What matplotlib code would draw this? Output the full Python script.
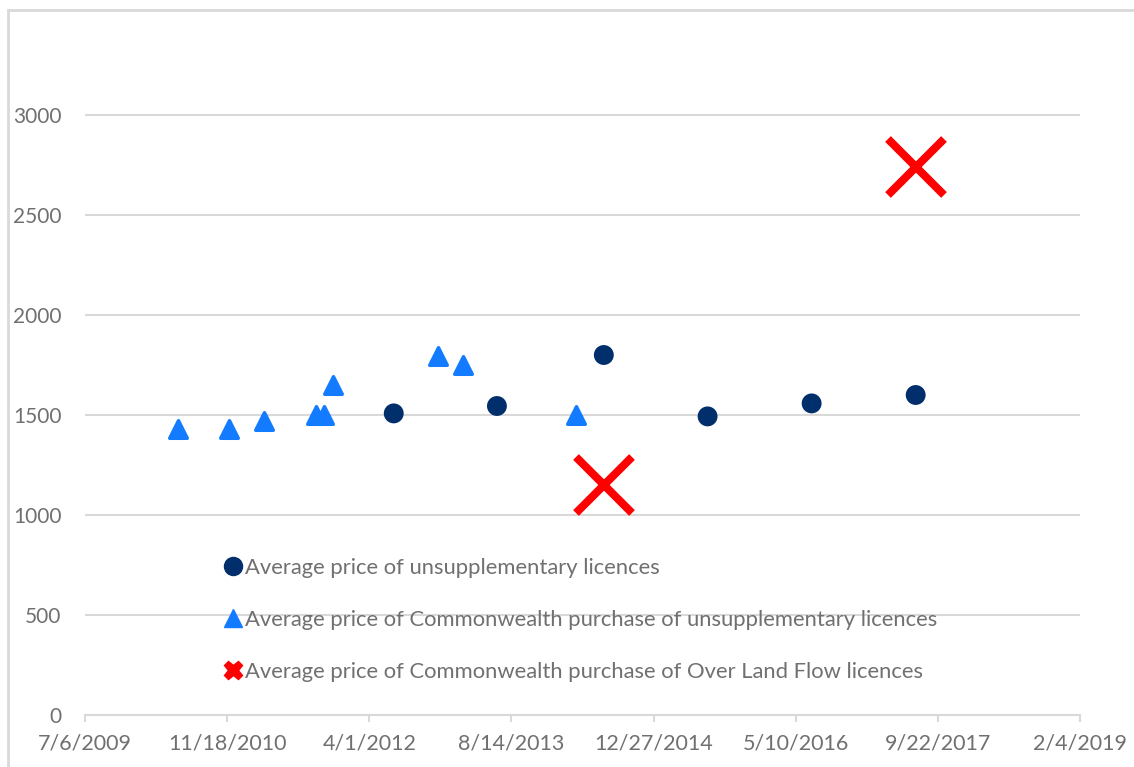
import datetime as dt
import matplotlib
matplotlib.use("Agg")
import matplotlib.pyplot as plt
import matplotlib.dates as mdates
from matplotlib.lines import Line2D
from matplotlib.patches import Rectangle

plt.rcParams['font.family'] = ['Lato', 'DejaVu Sans']

# data
unsup_dates = ['2012-06-26', '2013-06-24', '2014-07-05', '2015-07-05', '2016-07-05', '2017-07-06']
unsup_price = [1508, 1545, 1800, 1493, 1558, 1600]

cw_dates = ['2010-05-28', '2010-11-25', '2011-03-27', '2011-09-25', '2011-10-24',
            '2011-11-26', '2012-11-27', '2013-02-24', '2014-03-29']
cw_price = [1430, 1430, 1470, 1500, 1500, 1650, 1795, 1750, 1500]

olf_dates = ['2014-07-05', '2017-07-06']
olf_price = [1150, 2740]

labels = ['Average price of unsupplementary licences',
          'Average price of Commonwealth purchase of unsupplementary licences',
          'Average price of Commonwealth purchase of Over Land Flow licences']

start = dt.date(2009, 7, 6)
tick_dates = [start + dt.timedelta(days=500 * i) for i in range(8)]
y_ticks = [0, 500, 1000, 1500, 2000, 2500, 3000]

navy = '#002f6c'
blue = '#137bff'
red = '#ff0000'
grey_txt = '#707070'
grey_line = '#d9d9d9'

def to_dates(lst):
    return [dt.datetime.strptime(s, '%Y-%m-%d') for s in lst]

W, H = 1134, 767
fig = plt.figure(figsize=(W / 100, H / 100), dpi=100)
ax = fig.add_axes([85 / W, (H - 715) / H, (1080 - 85) / W, (715 - 15) / H])

# chart area border (only left and top visible)
fig.patches.append(Rectangle((8 / W, -0.1), 1.2, (H - 10) / H + 0.1, transform=fig.transFigure,
                             fill=False, edgecolor=grey_line, linewidth=2))

ax.scatter(to_dates(cw_dates), cw_price, marker='^', s=160, color=blue,
           edgecolors=blue, linewidths=2.5, zorder=3)
ax.scatter(to_dates(unsup_dates), unsup_price, marker='o', s=205, color=navy,
           edgecolors='none', zorder=3)
ax.plot(to_dates(olf_dates), olf_price, linestyle='none', marker='x', markersize=41,
        markeredgewidth=5.8, color=red, zorder=3)

ax.set_xlim(mdates.date2num(tick_dates[0]), mdates.date2num(tick_dates[-1]))
ax.set_xticks([mdates.date2num(d) for d in tick_dates])
ax.set_xticklabels([f'{d.month}/{d.day}/{d.year}' for d in tick_dates])
ax.set_ylim(0, 3500)
ax.set_yticks(y_ticks)
ax.set_yticklabels([str(v) for v in y_ticks])

for s in ['top', 'right', 'left']:
    ax.spines[s].set_visible(False)
ax.spines['bottom'].set_color(grey_line)
ax.spines['bottom'].set_linewidth(1.5)
ax.grid(axis='y', color=grey_line, linewidth=1.5)
ax.set_axisbelow(True)
ax.tick_params(axis='y', length=0, pad=17, labelsize=15, labelcolor=grey_txt)
ax.tick_params(axis='x', length=5, width=1.5, color=grey_line, pad=8,
               labelsize=15.5, labelcolor=grey_txt)

handles = [
    Line2D([], [], linestyle='none', marker='o', markersize=13, color=navy),
    Line2D([], [], linestyle='none', marker='^', markersize=13, color=blue),
    Line2D([], [], linestyle='none', marker='X', markersize=13, color=red),
]
ax.legend(handles, labels, loc='upper left', bbox_to_anchor=(213 / W, (H - 547) / H),
          bbox_transform=fig.transFigure, frameon=False, fontsize=15.8, labelcolor=grey_txt,
          handlelength=0.8, handletextpad=0.15, labelspacing=1.45, borderpad=0)

fig.savefig('out.png', dpi=100)
